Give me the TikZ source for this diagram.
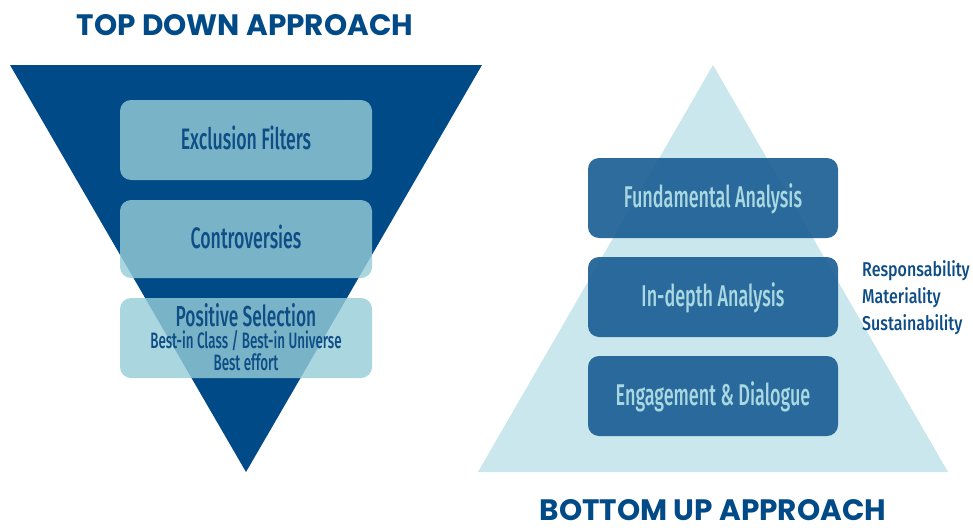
\documentclass[tikz,border=0pt]{standalone}
\usepackage{fontspec}
\newfontfamily\titlefont{Poppins}
\newfontfamily\condfont[FakeStretch=0.6]{Fira Sans Medium}
\newfontfamily\sidefont[FakeStretch=0.8]{Fira Sans Medium}
\definecolor{darkblue}{HTML}{004A87}
\definecolor{lightbox}{RGB}{150,204,216}
\definecolor{palecyan}{HTML}{C9E7EC}
\definecolor{midblue}{RGB}{28,95,149}
\definecolor{textblue}{HTML}{0E4D85}
\definecolor{lighttext}{HTML}{A9D8E1}
\tikzset{
  titletext/.style={font=\titlefont\bfseries\fontsize{29.5}{32}\selectfont, text=darkblue, inner sep=0pt, anchor=base},
  leftbox/.style={fill=lightbox, fill opacity=0.81, text opacity=1, rounded corners=11pt, minimum width=252pt, minimum height=80pt, inner sep=0pt},
  rightbox/.style={fill=midblue, fill opacity=0.92, text opacity=1, rounded corners=11pt, minimum width=250pt, minimum height=80pt, inner sep=0pt},
  lefttext/.style={text=textblue, font=\condfont\fontsize{29.6}{30}\selectfont, inner sep=0pt, anchor=base},
  subtext/.style={text=textblue, font=\condfont\fontsize{22.3}{24}\selectfont, inner sep=0pt, anchor=base},
  righttext/.style={text=lighttext, font=\condfont\fontsize{30}{30}\selectfont, inner sep=0pt, anchor=base},
  sidelabel/.style={text=textblue, font=\sidefont\fontsize{20}{27}\selectfont, inner sep=0pt, anchor=base west}
}
\begin{document}
\begin{tikzpicture}[x=1pt,y=-1pt]
\useasboundingbox (0,0) rectangle (973,527);
% titles
\node[titletext] (ttop) at (245,36) {TOP DOWN APPROACH};
\node[titletext] (tbot) at (713,520) {BOTTOM UP APPROACH};
% triangles
\fill[darkblue] (10,65) -- (482,65) -- (246,472) -- cycle;
\fill[palecyan] (713,65) -- (948,472) -- (478,472) -- cycle;
% left boxes
\node[leftbox] (excl) at (246,140) {};
\node[leftbox, minimum height=78pt] (contro) at (246,239) {};
\node[leftbox] (pos) at (246,338) {};
\node[lefttext] (exclt) at (246,149) {Exclusion Filters};
\node[lefttext] (controt) at (246,248) {Controversies};
\node[lefttext, font=\condfont\fontsize{28.9}{30}\selectfont] (post) at (246,326) {Positive Selection};
\node[subtext] (pos2) at (246,348) {Best-in Class / Best-in Universe};
\node[subtext] (pos3) at (246,370) {Best effort};
% right boxes
\node[rightbox] (fund) at (713,198) {};
\node[rightbox] (indepth) at (713,297) {};
\node[rightbox] (engage) at (713,396) {};
\node[righttext] (fundt) at (713,207) {Fundamental Analysis};
\node[righttext] (indeptht) at (713,306) {In-depth Analysis};
\node[righttext] (engaget) at (713,405) {Engagement \& Dialogue};
% side labels
\node[sidelabel] (side1) at (862,276) {Responsability};
\node[sidelabel] (side2) at (862,303) {Materiality};
\node[sidelabel] (side3) at (862,330) {Sustainability};
\end{tikzpicture}
\end{document}
